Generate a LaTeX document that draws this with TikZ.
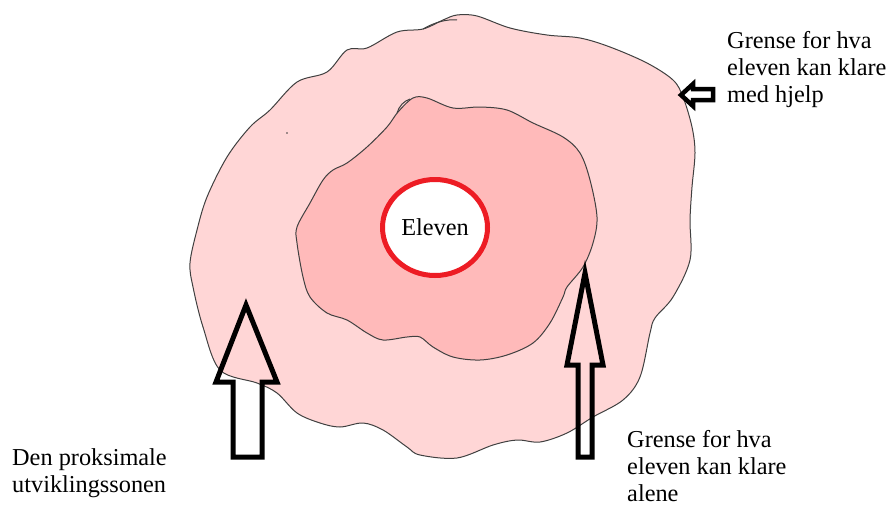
\documentclass[tikz,border=0pt]{standalone}
\usepackage{fontspec}
\setmainfont{LiberationSerif}[Extension=.ttf, UprightFont=*-Regular, BoldFont=*-Bold]
\usepackage{tikz}
\usetikzlibrary{shapes.geometric}
\definecolor{zoneout}{RGB}{255,214,214}
\definecolor{zonein}{RGB}{255,186,186}
\definecolor{rim}{RGB}{64,64,64}
\definecolor{paintred}{RGB}{237,28,36}

\begin{document}
\begin{tikzpicture}[x=1pt, y=-1pt,
    blob/.style = {draw=rim, line width=1pt, smooth cycle, tension=0.55},
    blockarrow/.style = {draw=black, line width=5pt, line join=miter},
    textlabel/.style = {inner sep=0pt, align=left, font=\fontsize{24.3}{27}\selectfont}]

        \useasboundingbox (0,0) rectangle (890,506);

        % Zones
        \draw[blob, fill=zoneout] plot coordinates {(457,15) (477,16) (510,28) (547,35) (580,38) (610,47) (647,63) (673,80) (683,97) (692,127) (695,153) (692,187) (690,220) (690,260) (673,297) (655,318) (650,333) (640,377) (623,400) (593,417) (567,433) (540,442) (517,440) (493,445) (457,458) (420,455) (407,447) (383,430) (363,423) (340,427) (320,423) (297,413) (277,393) (257,383) (220,370) (203,327) (193,287) (190,263) (197,230) (207,197) (227,157) (250,127) (270,110) (297,82) (327,72) (347,50) (367,48) (397,32) (423,29) (443,20)};
        \draw[rim, line width=1pt] (423,29) .. controls (435,22) and (447,19) .. (457,20);
        \fill[rim] (287,133) circle (0.8);

        \draw[blob, fill=zonein] plot coordinates {(413,98) (427,98) (453,108) (480,107) (507,110) (533,123) (563,137) (580,153) (590,180) (597,217) (593,243) (583,267) (567,287) (563,297) (550,323) (533,343) (507,355) (480,360) (453,357) (433,347) (420,337) (407,337) (383,340) (367,333) (347,320) (327,313) (310,297) (303,277) (297,243) (297,227) (310,203) (323,180) (333,170) (347,163) (367,147) (387,127) (398,112)};
        \draw[rim, line width=1pt] (397,113) .. controls (399,106) and (404,101) .. (410,99);

        % The pupil
        \node[ellipse, draw=paintred, line width=5pt, fill=white, minimum width=105pt, minimum height=96pt, inner sep=0pt, font=\fontsize{24.3}{27}\selectfont] (eleven) at (435,227.5) {Eleven};

        % Arrows
        \draw[blockarrow] (246,305) -- (277,382) -- (262,382) -- (262,457) -- (233,457) -- (233,382) -- (216,382) -- cycle;
        \draw[blockarrow] (585,273) -- (603,365) -- (592,365) -- (592,457) -- (578,457) -- (578,365) -- (567,365) -- cycle;
        \draw[blockarrow, line width=4.5pt] (681,95) -- (693,84) -- (693,89) -- (713,89) -- (713,100) -- (693,100) -- (693,106) -- cycle;

        % Labels
        \node[textlabel, anchor=north west] (withhelp) at (727,31.5) {Grense for hva\\eleven kan klare\\med hjelp};
        \node[textlabel, anchor=north west] (zone) at (12,448.5) {Den proksimale\\utviklingssonen};
        \node[textlabel, anchor=north west] (alone) at (627,430.5) {Grense for hva\\eleven kan klare\\alene};
    \end{tikzpicture}
\end{document}
